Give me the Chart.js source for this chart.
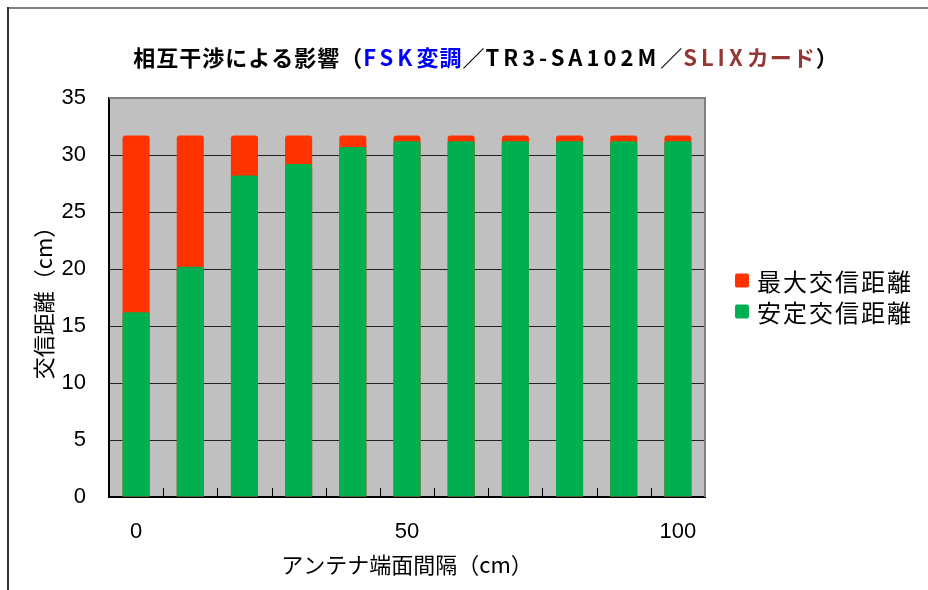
<!DOCTYPE html>
<html>
<head>
<meta charset="utf-8">
<script src="https://cdn.jsdelivr.net/npm/chart.js@4/dist/chart.umd.min.js"></script>
<style>
  html, body { margin: 0; padding: 0; background: #ffffff; }
  #wrap { width: 928px; height: 590px; }
</style>
</head>
<body>
<div id="wrap"><canvas id="c" width="928" height="590"></canvas></div>
<script>
// Antenna face spacing (cm)
const spacings = ['0', '10', '20', '30', '40', '50', '60', '70', '80', '90', '100'];
// Maximum communication distance (cm)
const maxRange = [31.7, 31.7, 31.7, 31.7, 31.7, 31.7, 31.7, 31.7, 31.7, 31.7, 31.7];
// Stable communication distance (cm)
const stableRange = [16.2, 20.2, 28.2, 29.2, 30.7, 31.2, 31.2, 31.2, 31.2, 31.2, 31.2];
// Only every fifth spacing carries a label
const labelEvery = 5;
const yMin = 0, yMax = 35, yStep = 5;

const seriesNames = ['最大交信距離', '安定交信距離'];
const seriesColors = ['#FF3300', '#00B050'];

// Title pieces: text, colour, latin run (wider spacing)
const titleParts = [
  ['相互干渉による影響（', '#000000', false],
  ['FSK', '#0000FF', true],
  ['変調', '#0000FF', false],
  ['／', '#000000', false],
  ['TR3-SA102M', '#000000', true],
  ['／', '#000000', false],
  ['SLIX', '#953735', true],
  ['カード', '#953735', false],
  ['）', '#000000', false]
];

const CJK = '"Noto Sans CJK JP", "Noto Sans", sans-serif';
const LATIN = '"Liberation Sans", Arial, sans-serif';

// Outer frame, plot background, title and legend
const decorPlugin = {
  id: 'decor',
  beforeDraw(chart) {
    const { ctx, chartArea: a } = chart;
    ctx.save();
    ctx.fillStyle = '#ffffff';
    ctx.fillRect(0, 0, chart.width, chart.height);
    // frame
    ctx.strokeStyle = '#808080';
    ctx.lineWidth = 2;
    ctx.beginPath();
    ctx.moveTo(7, 8); ctx.lineTo(chart.width, 8);
    ctx.stroke();
    ctx.strokeStyle = '#303030';
    ctx.beginPath();
    ctx.moveTo(8, 7); ctx.lineTo(8, chart.height);
    ctx.stroke();
    // plot area
    ctx.fillStyle = '#C0C0C0';
    ctx.fillRect(a.left, a.top, a.right - a.left, a.bottom - a.top);
    // title
    ctx.font = 'bold 22px ' + CJK;
    ctx.textBaseline = 'middle';
    ctx.textAlign = 'left';
    const widths = titleParts.map(p => {
      ctx.letterSpacing = p[2] ? '4px' : '1px';
      return ctx.measureText(p[0]).width;
    });
    const total = widths.reduce((s, w) => s + w, 0);
    let x = 486 - total / 2;
    titleParts.forEach((p, i) => {
      ctx.letterSpacing = p[2] ? '4px' : '1px';
      ctx.fillStyle = p[1];
      ctx.fillText(p[0], x, 58);
      x += widths[i];
    });
    ctx.letterSpacing = '0px';
    ctx.restore();
  },
  beforeDatasetsDraw(chart) {
    const { ctx, chartArea: a, scales } = chart;
    ctx.save();
    // grey top/right edge of the plot area
    ctx.strokeStyle = '#808080';
    ctx.lineWidth = 2;
    ctx.beginPath();
    ctx.moveTo(a.left, a.top); ctx.lineTo(a.right, a.top); ctx.lineTo(a.right, a.bottom);
    ctx.stroke();
    // inner tick marks between categories
    const xs = scales.x;
    ctx.strokeStyle = '#000000';
    ctx.lineWidth = 1;
    ctx.beginPath();
    for (let i = 0; i < spacings.length - 1; i++) {
      const px = Math.round((xs.getPixelForValue(i) + xs.getPixelForValue(i + 1)) / 2) + 0.5;
      ctx.moveTo(px, a.bottom); ctx.lineTo(px, a.bottom - 9);
    }
    ctx.stroke();
    ctx.restore();
  },
  afterDraw(chart) {
    const { ctx, chartArea: a } = chart;
    ctx.save();
    ctx.font = '24px ' + CJK;
    ctx.letterSpacing = '2px';
    ctx.textBaseline = 'middle';
    ctx.textAlign = 'left';
    const mid = (a.top + a.bottom) / 2;
    seriesNames.forEach((name, i) => {
      const cy = mid - 17 + i * 31;
      ctx.fillStyle = seriesColors[i];
      ctx.beginPath();
      ctx.roundRect(a.right + 30, cy - 7, 14, 14, 2);
      ctx.fill();
      ctx.fillStyle = '#000000';
      ctx.fillText(name, a.right + 52, cy + 1);
    });
    ctx.letterSpacing = '0px';
    ctx.restore();
  }
};

new Chart(document.getElementById('c'), {
  type: 'bar',
  data: {
    labels: spacings,
    datasets: [
      {
        label: seriesNames[0],
        data: maxRange,
        backgroundColor: seriesColors[0],
        borderRadius: 3,
        order: 1
      },
      {
        label: seriesNames[1],
        data: stableRange,
        backgroundColor: seriesColors[1],
        borderRadius: 3,
        order: 0
      }
    ]
  },
  options: {
    responsive: false,
    animation: false,
    devicePixelRatio: 1,
    layout: { padding: { top: 98, right: 223, bottom: 0, left: 0 } },
    datasets: { bar: { grouped: false, barPercentage: 0.5, categoryPercentage: 1.0 } },
    plugins: {
      legend: { display: false },
      title: { display: false },
      tooltip: { enabled: false }
    },
    scales: {
      x: {
        type: 'category',
        offset: true,
        grid: { display: false, drawOnChartArea: false, drawTicks: false },
        border: { display: true, color: '#000000', width: 2 },
        ticks: {
          autoSkip: false,
          maxRotation: 0,
          padding: 22,
          color: '#000000',
          font: { family: LATIN, size: 22 },
          callback(value, index) {
            return index % labelEvery === 0 ? this.getLabelForValue(value) : '';
          }
        },
        title: {
          display: true,
          text: 'アンテナ端面間隔（cm）',
          color: '#000000',
          font: { family: CJK, size: 22 },
          padding: { top: 0, bottom: 12 }
        },
        afterFit(scale) { scale.height = 93; }
      },
      y: {
        min: yMin,
        max: yMax,
        grid: {
          drawTicks: false,
          color: ctx => (ctx.tick && (ctx.tick.value === yMax || ctx.tick.value === yMin)) ? 'rgba(0,0,0,0)' : '#222222',
          lineWidth: 1
        },
        border: { display: true, color: '#000000', width: 2 },
        ticks: {
          stepSize: yStep,
          padding: 23,
          color: '#000000',
          font: { family: LATIN, size: 22 }
        },
        title: {
          display: true,
          text: '交信距離（cm）',
          color: '#000000',
          font: { family: CJK, size: 22 },
          padding: { top: 30, bottom: 0 }
        },
        afterFit(scale) { scale.width = 109; }
      }
    }
  },
  plugins: [decorPlugin]
});
</script>
</body>
</html>
